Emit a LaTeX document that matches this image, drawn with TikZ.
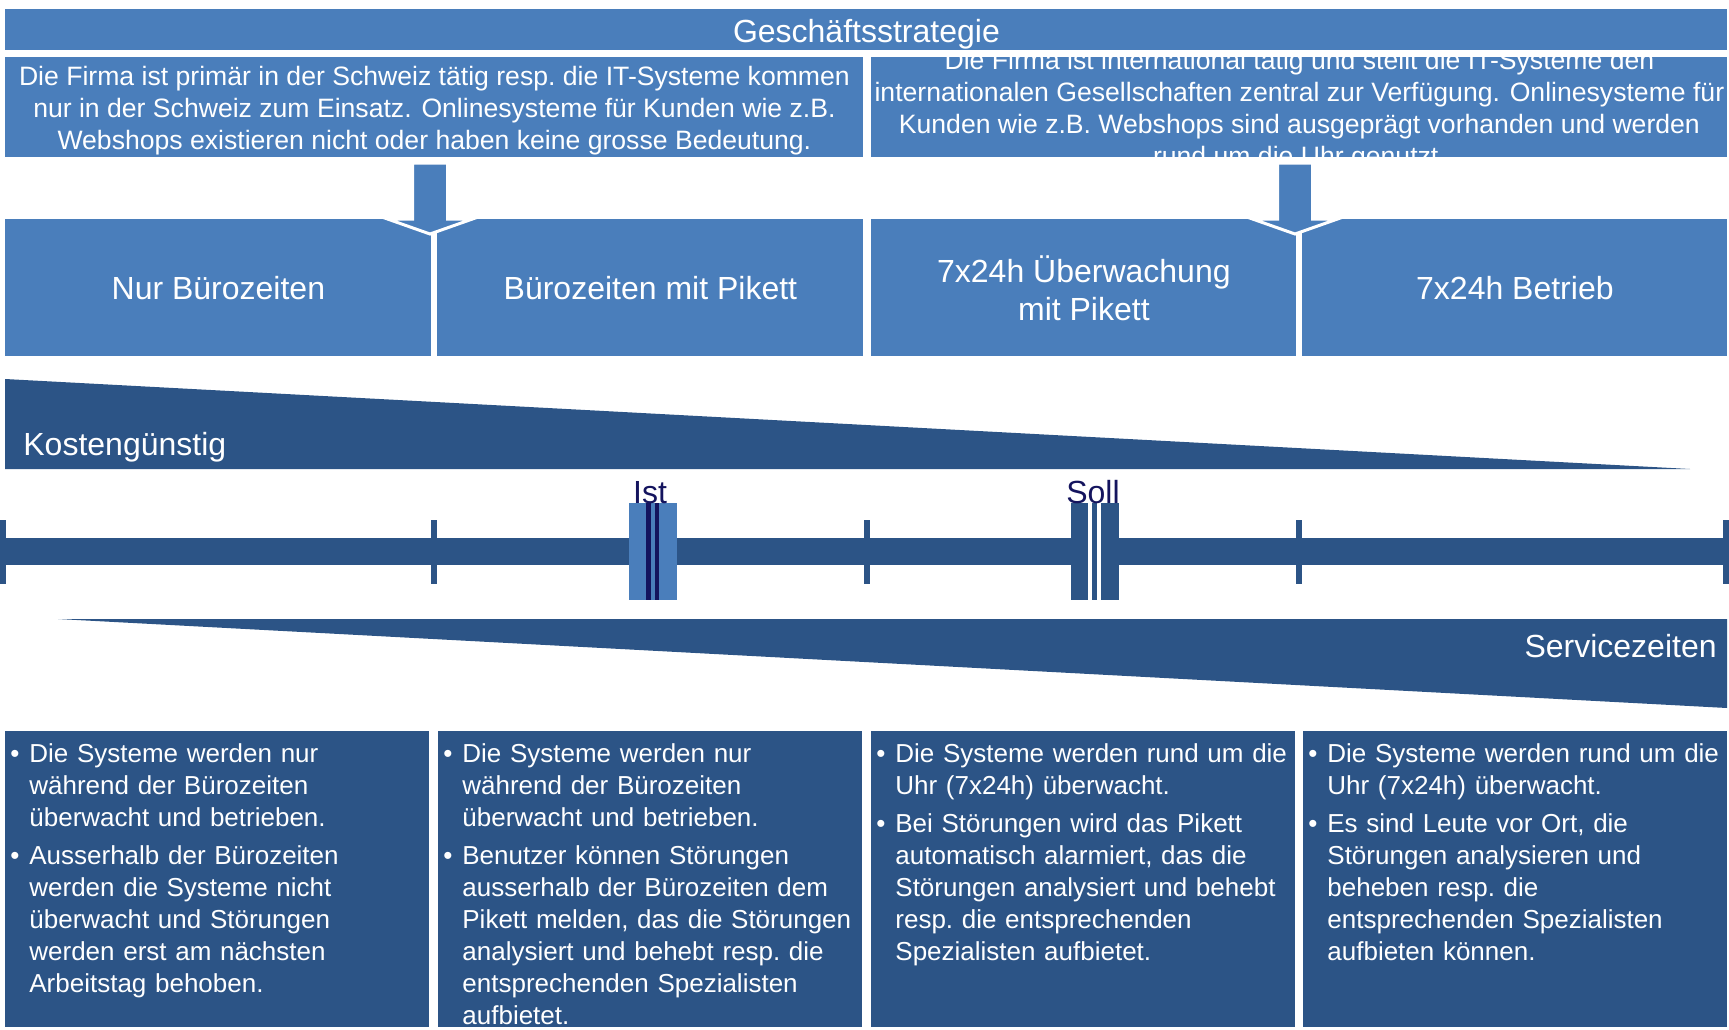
\documentclass[tikz,border=0pt]{standalone}
\usepackage{fontspec}
\setmainfont{Liberation Sans}
\usetikzlibrary{positioning}
\definecolor{hellblau}{HTML}{4A7EBB}
\definecolor{dunkelblau}{HTML}{2C5486}
\definecolor{marine}{HTML}{14145E}

% Aufzaehlungspunkt mit haengendem Einzug
\newcommand\punkt[1]{\hangindent=9.5pt\hangafter=1\noindent
  \makebox[9.5pt][l]{\textbullet}{\let\\\newline#1}\par}

\begin{document}
\begin{tikzpicture}[
  x=0.5pt, y=-0.5pt,
  line join=miter,
  kopf/.style = {fill=hellblau, anchor=north west, inner sep=0pt,
                minimum width=861pt, minimum height=20.5pt},
  info/.style = {fill=hellblau, anchor=north west, inner sep=0pt,
                minimum width=429pt, minimum height=50pt},
  infotext/.style = {text=white, align=center, inner sep=0pt,
                font=\fontsize{13.3}{16}\selectfont},
  stufe/.style = {fill=hellblau, text=white, anchor=north west, inner sep=0pt,
                minimum width=213pt, minimum height=68.5pt, align=center,
                font=\fontsize{16}{19}\selectfont},
  pfeil/.style = {fill=hellblau, draw=white, line width=1.5pt},
  keil/.style = {fill=dunkelblau},
  marke/.style = {fill=dunkelblau, anchor=north, inner sep=0pt,
                minimum width=3pt, minimum height=32pt},
  gross/.style = {text=white, inner sep=0pt, font=\fontsize{16}{19}\selectfont},
  zustand/.style = {text=marine, inner sep=0pt, anchor=base,
                font=\fontsize{16}{19}\selectfont},
  detail/.style = {fill=dunkelblau, anchor=north west, inner sep=0pt,
                minimum width=212pt, minimum height=148pt},
  liste/.style = {text=white, anchor=north west, inner sep=0pt,
                text width=215pt, font=\fontsize{13}{16}\selectfont,
                execute at begin node={\parindent=0pt\parskip=3pt\frenchspacing}}
]
\useasboundingbox (0,0) rectangle (1729,1029);

% Ausgangslage
\node[info] (i1) at (5,57) {};
\node[info, minimum width=428pt] (i2) at (871,57) {};
\node[infotext] (it1) at ([shift={(0,3)}]i1.center) {\frenchspacing
  Die Firma ist primär in der Schweiz tätig resp. die IT-Systeme kommen\\
  nur in der Schweiz zum Einsatz. Onlinesysteme für Kunden wie z.B.\\
  Webshops existieren nicht oder haben keine grosse Bedeutung.};
\node[infotext] (it2) at ([shift={(0,3)}]i2.center) {\frenchspacing
  Die Firma ist international tätig und stellt die IT-Systeme den\\
  internationalen Gesellschaften zentral zur Verfügung. Onlinesysteme für\\
  Kunden wie z.B. Webshops sind ausgeprägt vorhanden und werden\\
  rund um die Uhr genutzt.};
\fill[white] (0,0) rectangle (1729,56);
\node[kopf] (ks) at (5,9) {};
\node[gross] (kt) at ([shift={(0,4)}]ks.center) {Geschäftsstrategie};

% Servicestufen
\node[stufe] (s1) at (5,219) {Nur Bürozeiten};
\node[stufe] (s2) at (437,219) {Bürozeiten mit Pikett};
\node[stufe, minimum width=212.5pt] (s3) at (871,219) {7x24h Überwachung\\mit Pikett};
\node[stufe, minimum width=212.5pt] (s4) at (1302,219) {7x24h Betrieb};

\coordinate (pf1) at (430,163);
\coordinate (pf2) at (1295,163);
\foreach \p in {pf1, pf2}
  \path[pfeil] (\p) ++(-17.5,0) -- ++(35,0) -- ++(0,56) -- ++(25,0) -- ++(-42.5,15)
    -- ++(-42.5,-15) -- ++(25,0) -- cycle;

% Keile
\fill[keil] (5,379) -- (1690,469) -- (5,469) -- cycle;
\node[gross, anchor=base west] (kg) at (23,455) {Kostengünstig};
\fill[keil] (58,619) -- (1727,619) -- (1727,708) -- cycle;
\node[gross, anchor=base east] (sz) at (1717,657) {Servicezeiten};

% Skala
\fill[dunkelblau] (0,538) rectangle (1727,565);
\foreach \x [count=\i] in {3, 434, 867, 1299, 1726}
  \node[marke] (m\i) at (\x,520) {};

\node[fill=hellblau, anchor=north west, inner sep=0pt,
      minimum width=24pt, minimum height=48.5pt] (ist) at (629,503) {};
\fill[marine] (646,503) rectangle (651,600);
\fill[marine] (655,503) rectangle (659,600);
\node[zustand] (istl) at (650,503) {Ist};

\node[fill=dunkelblau, anchor=north west, inner sep=0pt,
      minimum width=24pt, minimum height=48.5pt] (soll) at (1071,503) {};
\fill[white] (1088,503) rectangle (1092,600);
\fill[white] (1097,503) rectangle (1101,600);
\node[zustand] (solll) at (1093,503) {Soll};

% Beschreibungen
\node[detail] (d1) at (5,731) {};
\node[detail] (d2) at (438,731) {};
\node[detail] (d3) at (871,731) {};
\node[detail] (d4) at (1303,731) {};

\node[liste] (t1) at ([shift={(5,12.5)}]d1.north west) {%
  \punkt{Die Systeme werden nur\\während der Bürozeiten\\überwacht und betrieben.}
  \punkt{Ausserhalb der Bürozeiten\\werden die Systeme nicht\\überwacht und Störungen\\werden erst am nächsten\\Arbeitstag behoben.}};
\node[liste] (t2) at ([shift={(5,12.5)}]d2.north west) {%
  \punkt{Die Systeme werden nur\\während der Bürozeiten\\überwacht und betrieben.}
  \punkt{Benutzer können Störungen\\ausserhalb der Bürozeiten dem\\Pikett melden, das die Störungen\\analysiert und behebt resp. die\\entsprechenden Spezialisten\\aufbietet.}};
\node[liste] (t3) at ([shift={(5,12.5)}]d3.north west) {%
  \punkt{Die Systeme werden rund um die\\Uhr (7x24h) überwacht.}
  \punkt{Bei Störungen wird das Pikett\\automatisch alarmiert, das die\\Störungen analysiert und behebt\\resp. die entsprechenden\\Spezialisten aufbietet.}};
\node[liste] (t4) at ([shift={(5,12.5)}]d4.north west) {%
  \punkt{Die Systeme werden rund um die\\Uhr (7x24h) überwacht.}
  \punkt{Es sind Leute vor Ort, die\\Störungen analysieren und\\beheben resp. die\\entsprechenden Spezialisten\\aufbieten können.}};

\end{tikzpicture}
\end{document}
